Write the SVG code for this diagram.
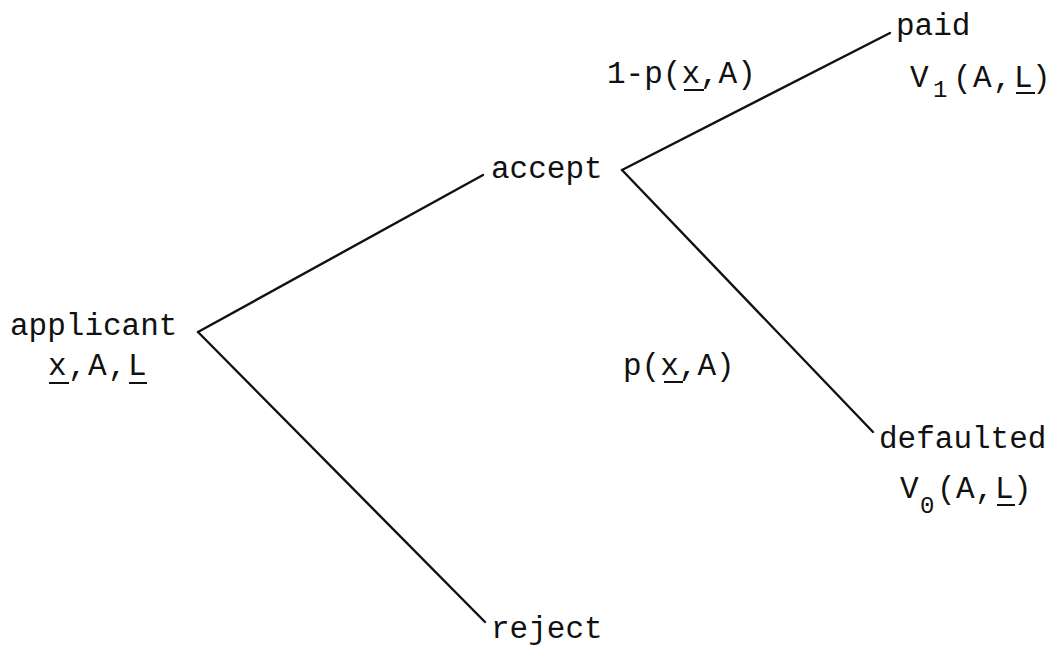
<svg xmlns="http://www.w3.org/2000/svg" width="1056" height="650" viewBox="0 0 1056 650">
<style>
text{font-family:"Liberation Mono","DejaVu Sans Mono",monospace;font-size:31px;fill:#111}
.sub{font-size:24px}
.edge{stroke:#111;stroke-width:2.4;fill:none;stroke-linecap:round}
.ul{stroke:#111;stroke-width:2;fill:none}
</style>
<rect width="1056" height="650" fill="#fff"/>
<g id="connectors">
<line class="edge" x1="198" y1="332" x2="483" y2="175"/>
<line class="edge" x1="198" y1="332" x2="485" y2="622"/>
<line class="edge" x1="622" y1="170" x2="890" y2="33"/>
<line class="edge" x1="622" y1="170" x2="873" y2="432"/>
</g>
<g id="applicant">
<text x="10" y="335">applicant</text>
<text x="48 68 88 108 128" y="375">x,A,L</text>
<line class="ul" x1="49" y1="383" x2="69" y2="383"/>
<line class="ul" x1="129" y1="383" x2="147" y2="383"/>
</g>
<g id="accept">
<text x="491" y="178">accept</text>
</g>
<g id="reject">
<text x="491" y="638">reject</text>
</g>
<g id="paid">
<text x="896" y="35">paid</text>
<text x="910" y="87">V</text>
<text class="sub" x="933" y="97">1</text>
<text x="953 973 993 1014 1032" y="87">(A,L)</text>
<line class="ul" x1="1016" y1="93" x2="1035" y2="93"/>
</g>
<g id="defaulted">
<text x="879" y="448">defaulted</text>
<text x="900" y="498">V</text>
<text class="sub" x="920" y="513">0</text>
<text x="937 956 975 995 1013" y="498">(A,L)</text>
<line class="ul" x1="997" y1="505" x2="1015" y2="505"/>
</g>
<g id="edge-labels">
<text x="607" y="83">1-p(x,A)</text>
<line class="ul" x1="684" y1="90" x2="704" y2="90"/>
<text x="623" y="375">p(x,A)</text>
<line class="ul" x1="664" y1="382" x2="683" y2="382"/>
</g>
</svg>
